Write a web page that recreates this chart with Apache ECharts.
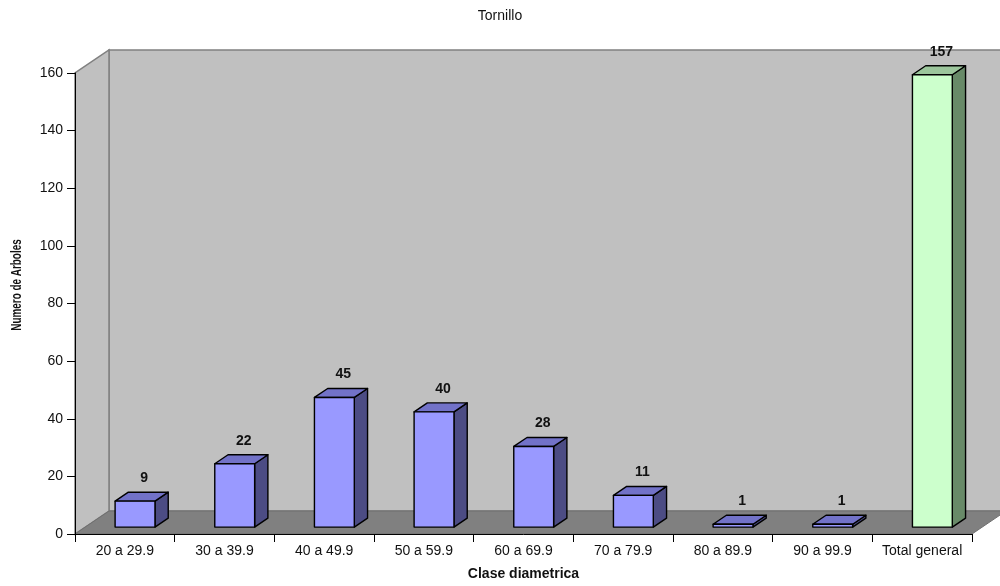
<!DOCTYPE html>
<html><head><meta charset="utf-8">
<script src="https://cdn.jsdelivr.net/npm/echarts@6/dist/echarts.min.js"></script>
<style>html,body{margin:0;padding:0;background:#fff}#c{width:1000px;height:586px}</style>
</head><body><div id="c"></div>
<script>
// ---- data ----
const categories = ['20 a 29.9','30 a 39.9','40 a 49.9','50 a 59.9','60 a 69.9','70 a 79.9','80 a 89.9','90 a 99.9','Total general'];
const values = [9, 22, 45, 40, 28, 11, 1, 1, 157];
const yMin = 0, yMax = 160, yInterval = 20;
const titleText = 'Tornillo';
const xName = 'Clase diametrica';
const yName = 'Numero de Arboles';

// ---- 3D look constants ----
const DX = 34, DY = -23;       // depth vector of the floor
const F0 = 0.30, FD = 0.39;    // bar front offset and bar depth (fractions of depth)
const FONT = 'Liberation Sans, Arial, sans-serif';

const chart = echarts.init(document.getElementById('c'), null, {renderer: 'canvas'});

function renderWalls(params, api) {
  const cs = params.coordSys;
  const x0 = cs.x, y0 = cs.y, w = cs.width, h = cs.height;
  const yb = y0 + h;
  return {
    type: 'group',
    children: [
      { type: 'polygon', shape: { points: [[x0 + DX, y0 + DY], [x0 + w + DX + 40, y0 + DY], [x0 + w + DX + 40, yb + DY], [x0 + DX, yb + DY]] },
        style: { fill: '#C0C0C0', stroke: '#808080', lineWidth: 1.5 } },
      { type: 'polygon', shape: { points: [[x0, yb], [x0, y0], [x0 + DX, y0 + DY], [x0 + DX, yb + DY]] },
        style: { fill: '#C0C0C0', stroke: '#808080', lineWidth: 1.5 } },
      { type: 'polygon', shape: { points: [[x0, yb], [x0 + DX, yb + DY], [x0 + w + DX, yb + DY], [x0 + w, yb]] },
        style: { fill: '#808080', stroke: '#6f6f6f', lineWidth: 1 } }
    ]
  };
}

function renderBar(params, api) {
  const i = api.value(0), v = api.value(1);
  const base = api.coord([i, 0]);
  const top = api.coord([i, v]);
  const band = api.size([1, 0])[0];
  const bw = band * 0.40;
  const ox = DX * F0, oy = DY * F0;
  const dx = DX * FD, dy = DY * FD;
  const xl = base[0] - bw / 2 + ox, xr = xl + bw;
  const yb = base[1] + oy, yt = top[1] + oy;
  const total = i === categories.length - 1;
  const cFront = total ? '#CCFFCC' : '#9999FF';
  const cTop = total ? '#9CC69C' : '#7272C8';
  const cSide = total ? '#688A68' : '#4C4C84';
  const st = { stroke: '#000', lineWidth: 1.4, lineJoin: 'round' };
  return {
    type: 'group',
    children: [
      { type: 'polygon', shape: { points: [[xr, yb], [xr + dx, yb + dy], [xr + dx, yt + dy], [xr, yt]] },
        style: Object.assign({ fill: cSide }, st) },
      { type: 'polygon', shape: { points: [[xl, yt], [xr, yt], [xr + dx, yt + dy], [xl + dx, yt + dy]] },
        style: Object.assign({ fill: cTop }, st) },
      { type: 'polygon', shape: { points: [[xl, yb], [xr, yb], [xr, yt], [xl, yt]] },
        style: Object.assign({ fill: cFront }, st) },
      { type: 'text', x: (xl + xr) / 2 + 9, y: yt - 23,
        style: { text: String(v), fill: '#111', font: 'bold 14px ' + FONT,
                 align: 'center', verticalAlign: 'middle', textAlign: 'center', textVerticalAlign: 'middle' } }
    ]
  };
}

const option = {
  backgroundColor: '#fff',
  animation: false,
  title: {
    text: titleText, left: 'center', top: 4,
    textStyle: { fontFamily: FONT, fontSize: 14, fontWeight: 'normal', color: '#111' }
  },
  grid: { left: 75, right: 28, top: 73, bottom: 50, containLabel: false },
  xAxis: {
    type: 'category', data: categories, boundaryGap: true,
    name: xName, nameLocation: 'middle', nameGap: 33,
    nameTextStyle: { fontFamily: FONT, fontSize: 14, fontWeight: 'bold', color: '#111' },
    axisLine: { show: true, lineStyle: { color: '#000', width: 1 } },
    axisTick: { show: true, length: 8, inside: false, alignWithLabel: false, lineStyle: { color: '#000' } },
    axisLabel: { interval: 0, margin: 10, fontFamily: FONT, fontSize: 14, color: '#111', hideOverlap: false },
    splitLine: { show: false }
  },
  yAxis: {
    type: 'value', min: yMin, max: yMax, interval: yInterval,
    axisLine: { show: true, lineStyle: { color: '#000', width: 1 } },
    axisTick: { show: true, length: 8, inside: false, lineStyle: { color: '#000' } },
    axisLabel: { margin: 12, fontFamily: FONT, fontSize: 14, color: '#111' },
    splitLine: { show: false }
  },
  graphic: [{
    type: 'text', x: 17, y: 285, rotation: Math.PI / 2, scaleX: 0.66,
    style: { text: yName, font: 'bold 15px ' + FONT, fill: '#111',
             align: 'center', verticalAlign: 'middle', textAlign: 'center', textVerticalAlign: 'middle' }
  }],
  series: [
    { type: 'custom', z: -1, silent: true, renderItem: renderWalls, data: [[0, 0]], encode: { x: 0, y: 1 }, clip: false },
    { type: 'custom', z: 3, renderItem: renderBar, data: values.map((v, i) => [i, v]), encode: { x: 0, y: 1 }, clip: false }
  ]
};
chart.setOption(option);
</script>
</body></html>
